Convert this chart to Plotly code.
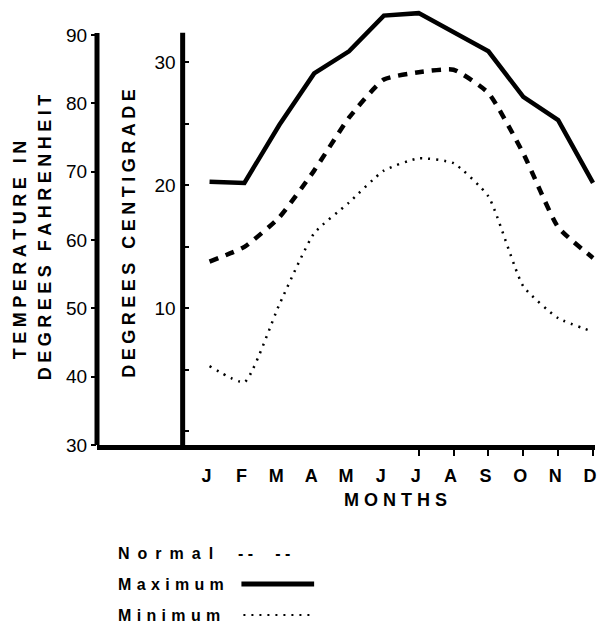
import plotly.graph_objects as go

# monthly temperatures, degrees centigrade
months = ['J', 'F', 'M', 'A', 'M', 'J', 'J', 'A', 'S', 'O', 'N', 'D']
month_num = list(range(1, 13))
normal_c = [13.8, 15.0, 17.4, 21.2, 25.5, 28.6, 29.2, 29.4, 27.5, 22.6, 16.6, 14.1]
maximum_c = [20.3, 20.2, 24.9, 29.1, 30.9, 33.8, 34.0, 32.5, 30.9, 27.2, 25.3, 20.2]
minimum_c = [5.3, 4.0, 10.3, 16.1, 18.6, 21.2, 22.2, 21.8, 19.1, 11.8, 9.2, 8.1]

f_ticks = [30, 40, 50, 60, 70, 80, 90]
c_ticks = [0, 5, 10, 15, 20, 25, 30]
c_ticktext = ['', '', '10', '', '20', '', '30']

FONT = 'Liberation Sans'

# plot box in pixels: left 97, right 597, top 8, bottom 445
L, R, T, B = 97, 597, 8, 445
W, H = 600, 627


def px(x):
    return (x - L) / (R - L)


def py(y):
    return (B - y) / (B - T)


def spaced(text, gap):
    # wide letter spacing, as in the old typeset figure
    words = [gap.join(w) for w in text.split(' ')]
    return (gap + '\u00a0' + gap).join(words)


f_lo, f_hi = 30, 30 + (B - T) / 6.833
c_lo, c_hi = (f_lo - 32) / 1.8, (f_hi - 32) / 1.8

fig = go.Figure()

fig.add_trace(go.Scatter(
    x=month_num, y=maximum_c, yaxis='y2', mode='lines',
    line=dict(color='black', width=4.5), showlegend=False))
fig.add_trace(go.Scatter(
    x=month_num, y=normal_c, yaxis='y2', mode='lines',
    line=dict(color='black', width=4.5, dash='9px,8px', shape='spline', smoothing=0.5),
    showlegend=False))
fig.add_trace(go.Scatter(
    x=month_num, y=minimum_c, yaxis='y2', mode='lines',
    line=dict(color='black', width=2.5, dash='2px,6px', shape='spline', smoothing=0.5),
    showlegend=False))

annotations = [
    dict(text='<b>%s</b>' % spaced('TEMPERATURE IN', '\u2005'), x=px(20), y=py(250),
         textangle=-90, font=dict(size=18)),
    dict(text='<b>%s</b>' % spaced('DEGREES FAHRENHEIT', '\u2005'), x=px(45), y=py(237),
         textangle=-90, font=dict(size=18)),
    dict(text='<b>%s</b>' % spaced('DEGREES CENTIGRADE', '\u2005'), x=px(129), y=py(233),
         textangle=-90, font=dict(size=18)),
    dict(text='<b>%s</b>' % spaced('MONTHS', ' '), x=px(397), y=py(500), font=dict(size=18)),
]
legend_rows = [('Normal', 553, '\u2002'), ('Maximum', 584, '\u2004'), ('Minimum', 615, '\u2004')]
for name, yy, gap in legend_rows:
    annotations.append(dict(text='<b>%s</b>' % spaced(name, gap), x=px(116), y=py(yy),
                            xanchor='left', font=dict(size=16)))
annotations.append(dict(text='<b>- -' + '\u00a0' * 5 + '- -</b>', x=px(237), y=py(553),
                        xanchor='left', font=dict(size=16)))
for a in annotations:
    a.setdefault('xanchor', 'center')
    a.update(xref='paper', yref='paper', yanchor='middle', showarrow=False)
    a['font'].update(family=FONT, color='black')

shapes = [
    # Fahrenheit and centigrade axis lines
    dict(type='line', xref='paper', yref='y', x0=0, x1=0, y0=30, y1=90.3,
         line=dict(color='black', width=5)),
    dict(type='line', xref='paper', yref='y2', x0=px(183), x1=px(183), y0=c_lo, y1=32.4,
         line=dict(color='black', width=5)),
    # legend samples
    dict(type='line', xref='paper', yref='paper', x0=px(242), x1=px(315), y0=py(584), y1=py(584),
         line=dict(color='black', width=5)),
    dict(type='line', xref='paper', yref='paper', x0=px(244), x1=px(315), y0=py(615), y1=py(615),
         line=dict(color='black', width=2, dash='2px,6px')),
]

fig.update_layout(
    width=W, height=H,
    margin=dict(l=L, r=W - R, t=T, b=H - B),
    paper_bgcolor='white', plot_bgcolor='white',
    font=dict(family=FONT, color='black'),
    xaxis=dict(
        range=[1 - (210 - L) / 35, 12 + (R - 595) / 35],
        tickvals=month_num, ticktext=['<b>%s</b>' % m for m in months],
        tickfont=dict(size=18), ticks='', ticklabelstandoff=10, ticklabelshift=-3,
        ticklabeloverflow='allow',
        showline=True, linecolor='black', linewidth=5,
        showgrid=False, zeroline=False,
        minor=dict(tickvals=month_num[6:], ticks='outside', ticklen=6, tickwidth=2,
                   tickcolor='black', showgrid=False),
    ),
    yaxis=dict(
        range=[f_lo, f_hi], tickvals=f_ticks, ticks='outside', ticklen=5, tickwidth=2,
        tickcolor='black', tickfont=dict(size=19), showline=False,
        showgrid=False, zeroline=False,
    ),
    yaxis2=dict(
        range=[c_lo, c_hi], overlaying='y', anchor='free', position=px(183), side='left',
        tickvals=c_ticks, ticktext=c_ticktext, ticks='inside', ticklen=5, tickwidth=2,
        tickcolor='black', tickfont=dict(size=19), ticklabelstandoff=7,
        showline=False, showgrid=False, zeroline=False,
    ),
    annotations=annotations,
    shapes=shapes,
    showlegend=False,
)

fig.write_html('out.html', config={'displayModeBar': False},
               post_script="document.body.style.margin='0';")
